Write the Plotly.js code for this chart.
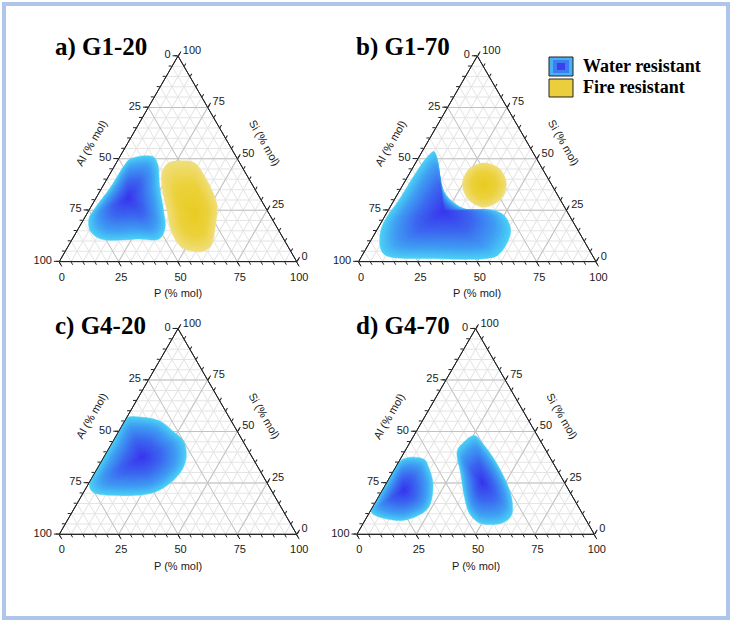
<!DOCTYPE html>
<html><head><meta charset="utf-8">
<script src="https://cdn.plot.ly/plotly-3.0.1.min.js"></script>
<style>html,body{margin:0;padding:0;background:#fff}#chart{width:732px;height:622px}</style>
</head><body><div id="chart"></div>
<script>
// ---------------- data (mol %) : Si = top vertex, Al = bottom-left, P = bottom-right
const tickVals = [0, 25, 50, 75, 100];
const tickText = ['100', '75', '50', '25', '0'];
const panelTitles = ['a) G1-20', 'b) G1-70', 'c) G4-20', 'd) G4-70'];
const axisTitles = ['Al (% mol)', 'Si (% mol)', 'P (% mol)'];
const legendLabels = ['Water resistant', 'Fire resistant'];

// a) G1-20 — water resistant
const aWaterSi = [50, 51, 47, 36.5, 24, 16, 11, 11, 11, 15, 21, 25.5, 36, 47];
const aWaterAl = [45, 35, 35, 39.5, 44, 47.5, 52.5, 60.5, 77, 79.5, 77, 72.5, 60.5, 49];
const aWaterP  = [5, 14, 18, 24, 32, 36.5, 36.5, 28.5, 12, 5.5, 2, 2, 3.5, 4];
const aWaterCenter = [31, 55.5, 13.5];
// a) G1-20 — fire resistant
const aFireSi = [49, 48, 42, 33.5, 27, 17.5, 8, 5, 5, 7, 14.5, 24, 36.5, 43.5, 48];
const aFireAl = [24, 19, 18, 18.5, 20, 25.5, 32, 37, 41, 45, 45.5, 42.5, 38.5, 35, 30];
const aFireP  = [27, 33, 40, 48, 53, 57, 60, 58, 54, 48, 40, 33.5, 25, 21.5, 22];
const aFireCenter = [23, 31.5, 45.5];

// b) G1-70 — water resistant
const bWaterSi = [53.5, 49.5, 41.5, 34, 28.5, 25.5, 25, 22.5, 16, 9.5, 3, 1.5, 1.5, 3, 6.5, 14.5, 20.5, 30, 43, 51];
const bWaterAl = [41.5, 42, 45, 47, 45.5, 42, 31, 27.5, 28, 32.5, 40, 45.5, 68, 87, 87.5, 83.5, 78.5, 68, 54.5, 45.5];
const bWaterP  = [5, 8.5, 13.5, 19, 26, 32.5, 44, 50, 56, 58, 57, 53, 30.5, 10, 6, 2, 1, 2, 2.5, 3.5];
const bWaterCenter = [24.5, 52, 23.5];
// b) G1-70 — fire resistant
const bFireSi = [48, 45, 37.5, 30, 26.5, 30, 37.5, 45];
const bFireAl = [23, 18, 19, 25.5, 34, 38.5, 37.5, 31];
const bFireP  = [29, 37, 43.5, 44.5, 39.5, 31.5, 25, 24];
const bFireCenter = [37.5, 28.5, 34];

// c) G4-20 — water resistant
const cWaterSi = [56.5, 57, 55, 50, 45.5, 39, 32.5, 26.5, 21.5, 19.5, 19, 20.5, 23.5, 35, 45];
const cWaterAl = [43.5, 37.5, 30, 27, 25, 27, 31.5, 38.5, 47, 53.5, 69, 75.5, 75.5, 65, 55];
const cWaterP  = [0, 5.5, 15, 23, 29.5, 34, 36, 35, 31.5, 27, 12, 4, 1, 0, 0];
const cWaterCenter = [37.5, 46.5, 16];

// d) G4-70 — water resistant (two domains)
const dWater1Si = [36.5, 36.5, 32.5, 25, 15, 11, 7, 7, 9, 11, 15, 25];
const dWater1Al = [62.5, 53.5, 53.5, 55.5, 61.5, 66, 76, 81.5, 87.5, 88.5, 85, 75];
const dWater1P  = [1, 10, 14, 19.5, 23.5, 23, 17, 11.5, 3.5, 0.5, 0, 0];
const dWater1Center = [21.5, 69.5, 9];
const dWater2Si = [48, 44.5, 37.5, 29.5, 21.5, 15, 9, 5.5, 5, 6.5, 10.5, 18.5, 29.5, 40.5, 44.5];
const dWater2Al = [26.5, 25, 24, 24, 25, 27, 30.5, 36, 44.5, 46.5, 47.5, 45.5, 41.5, 37.5, 33];
const dWater2P  = [25.5, 30.5, 38.5, 46.5, 53.5, 58, 60.5, 58.5, 50.5, 47, 42, 36, 29, 22, 22.5];
const dWater2Center = [25.5, 34.5, 40];

// ---------------- styling
const W = 732, H = 622;
const px = x => x / W, py = y => 1 - y / H;
const waterStops = [[0, [58, 52, 238]], [0.45, [60, 104, 240]], [0.8, [64, 160, 243]], [1, [74, 206, 246]]];
const fireStops  = [[0, [234, 204, 34]], [0.6, [236, 210, 62]], [1, [240, 222, 122]]];
const NLAYERS = 24;

// triangle placement (pixels): left-vertex x, base y ; side length
const SIDE = 237.4, TH = SIDE * Math.sqrt(3) / 2;
const panels = [
  {x0: 59.3, base: 261.6, title: [53, 47]},
  {x0: 358.6, base: 261.6, title: [354, 47]},
  {x0: 59.3, base: 534.3, title: [53, 326]},
  {x0: 356.9, base: 534.3, title: [354, 326]}
];

function interp(stops, t) {
  for (let i = 1; i < stops.length; i++) {
    if (t <= stops[i][0]) {
      const [t0, c0] = stops[i - 1], [t1, c1] = stops[i];
      const f = (t - t0) / (t1 - t0);
      const c = c0.map((v, j) => Math.round(v + f * (c1[j] - v)));
      return `rgb(${c[0]},${c[1]},${c[2]})`;
    }
  }
  const c = stops[stops.length - 1][1];
  return `rgb(${c[0]},${c[1]},${c[2]})`;
}

function regionTraces(si, al, p, center, stops, subplot) {
  const out = [];
  for (let k = 0; k < NLAYERS; k++) {
    const s = 1 - k / NLAYERS;
    const A = si.map(v => center[0] + s * (v - center[0]));
    const B = al.map(v => center[1] + s * (v - center[1]));
    const C = p.map(v => center[2] + s * (v - center[2]));
    A.push(A[0]); B.push(B[0]); C.push(C[0]);
    const col = interp(stops, s);
    out.push({
      type: 'scatterternary', subplot, a: A, b: B, c: C, mode: 'lines',
      fill: 'toself', fillcolor: col,
      line: {color: col, width: 0.5, shape: 'spline', smoothing: 1},
      hoverinfo: 'skip', showlegend: false
    });
  }
  return out;
}

const data = [];
// dummy traces to register the background (minor-grid) ternaries first
for (let i = 0; i < 4; i++) {
  data.push({type: 'scatterternary', subplot: i === 0 ? 'ternary' : 'ternary' + (i + 1),
    a: [], b: [], c: [], mode: 'markers', hoverinfo: 'skip', showlegend: false});
}
data.push(...regionTraces(aWaterSi, aWaterAl, aWaterP, aWaterCenter, waterStops, 'ternary5'));
data.push(...regionTraces(aFireSi, aFireAl, aFireP, aFireCenter, fireStops, 'ternary5'));
data.push(...regionTraces(bWaterSi, bWaterAl, bWaterP, bWaterCenter, waterStops, 'ternary6'));
data.push(...regionTraces(bFireSi, bFireAl, bFireP, bFireCenter, fireStops, 'ternary6'));
data.push(...regionTraces(cWaterSi, cWaterAl, cWaterP, cWaterCenter, waterStops, 'ternary7'));
data.push(...regionTraces(dWater1Si, dWater1Al, dWater1P, dWater1Center, waterStops, 'ternary8'));
data.push(...regionTraces(dWater2Si, dWater2Al, dWater2P, dWater2Center, waterStops, 'ternary8'));

const tickFont = {family: 'Liberation Sans, Arial, sans-serif', size: 11, color: '#1a1a1a'};
function minorAxis() {
  return {min: 0, tickmode: 'linear', tick0: 0, dtick: 5, showticklabels: false,
    ticks: 'outside', ticklen: 3, tickwidth: 1, tickcolor: '#222',
    showgrid: true, gridcolor: '#e4e4e4', gridwidth: 1,
    showline: true, linecolor: '#222', linewidth: 1, title: {text: ''}};
}
function majorAxis() {
  return {min: 0, tickmode: 'array', tickvals: tickVals, ticktext: tickText,
    ticks: 'outside', ticklen: 5, tickwidth: 1, tickcolor: '#222', tickfont: tickFont,
    showgrid: true, gridcolor: '#c2c2c2', gridwidth: 1,
    showline: true, linecolor: '#222', linewidth: 1, title: {text: ''}};
}

const layout = {
  width: W, height: H, margin: {l: 0, r: 0, t: 0, b: 0},
  paper_bgcolor: '#ffffff', showlegend: false,
  annotations: [], shapes: []
};

panels.forEach((pn, i) => {
  const dom = {x: [px(pn.x0), px(pn.x0 + SIDE)], y: [py(pn.base), py(pn.base - TH)]};
  const backId = i === 0 ? 'ternary' : 'ternary' + (i + 1);
  const frontId = 'ternary' + (i + 5);
  layout[backId] = {domain: dom, sum: 100, bgcolor: '#ffffff',
    aaxis: minorAxis(), baxis: minorAxis(), caxis: minorAxis()};
  layout[frontId] = {domain: dom, sum: 100, bgcolor: 'rgba(0,0,0,0)',
    aaxis: majorAxis(), baxis: majorAxis(), caxis: majorAxis()};

  // axis titles along the edges
  const off = 31.5;
  const midL = [pn.x0 + SIDE / 4, pn.base - TH / 2];
  const midR = [pn.x0 + 3 * SIDE / 4, pn.base - TH / 2];
  const midB = [pn.x0 + SIDE / 2, pn.base];
  const tf = {family: 'Liberation Sans, Arial, sans-serif', size: 11, color: '#1a1a1a'};
  layout.annotations.push(
    {xref: 'paper', yref: 'paper', x: px(midL[0] - off * 0.866), y: py(midL[1] - off * 0.5),
     text: axisTitles[0], textangle: -60, showarrow: false, font: tf, xanchor: 'center', yanchor: 'middle'},
    {xref: 'paper', yref: 'paper', x: px(midR[0] + off * 0.866), y: py(midR[1] - off * 0.5),
     text: axisTitles[1], textangle: 60, showarrow: false, font: tf, xanchor: 'center', yanchor: 'middle'},
    {xref: 'paper', yref: 'paper', x: px(midB[0]), y: py(midB[1] + off),
     text: axisTitles[2], showarrow: false, font: tf, xanchor: 'center', yanchor: 'middle'},
    {xref: 'paper', yref: 'paper', x: px(pn.title[0]), y: py(pn.title[1]),
     text: '<b>' + panelTitles[i] + '</b>', showarrow: false, xanchor: 'left', yanchor: 'middle',
     font: {family: 'Liberation Serif, Times New Roman, serif', size: 25, color: '#000'}}
  );
});

// legend (manual, top-right of panel b)
const legFont = {family: 'Liberation Serif, Times New Roman, serif', size: 18, color: '#000'};
layout.annotations.push(
  {xref: 'paper', yref: 'paper', x: px(581), y: py(66), text: '<b>' + legendLabels[0] + '</b>',
   showarrow: false, xanchor: 'left', yanchor: 'middle', font: legFont},
  {xref: 'paper', yref: 'paper', x: px(581), y: py(87), text: '<b>' + legendLabels[1] + '</b>',
   showarrow: false, xanchor: 'left', yanchor: 'middle', font: legFont}
);
layout.shapes.push(
  // outer frame
  {type: 'rect', xref: 'paper', yref: 'paper', x0: px(4), x1: px(728), y0: py(618), y1: py(4),
   line: {color: '#afc5ea', width: 4}, fillcolor: 'rgba(0,0,0,0)'},
  // water swatch (radial look)
  {type: 'rect', xref: 'paper', yref: 'paper', x0: px(549), x1: px(573), y0: py(76), y1: py(57),
   line: {color: '#222', width: 1}, fillcolor: 'rgb(72,176,244)'},
  {type: 'rect', xref: 'paper', yref: 'paper', x0: px(553), x1: px(569), y0: py(73), y1: py(60),
   line: {width: 0}, fillcolor: 'rgb(62,124,241)'},
  {type: 'rect', xref: 'paper', yref: 'paper', x0: px(557), x1: px(565), y0: py(70), y1: py(63),
   line: {width: 0}, fillcolor: 'rgb(58,64,238)'},
  // fire swatch
  {type: 'rect', xref: 'paper', yref: 'paper', x0: px(549), x1: px(573), y0: py(97), y1: py(79),
   line: {color: '#222', width: 1}, fillcolor: 'rgb(234,206,60)'}
);

Plotly.newPlot('chart', data, layout, {staticPlot: true, displayModeBar: false});
</script>
</body></html>
